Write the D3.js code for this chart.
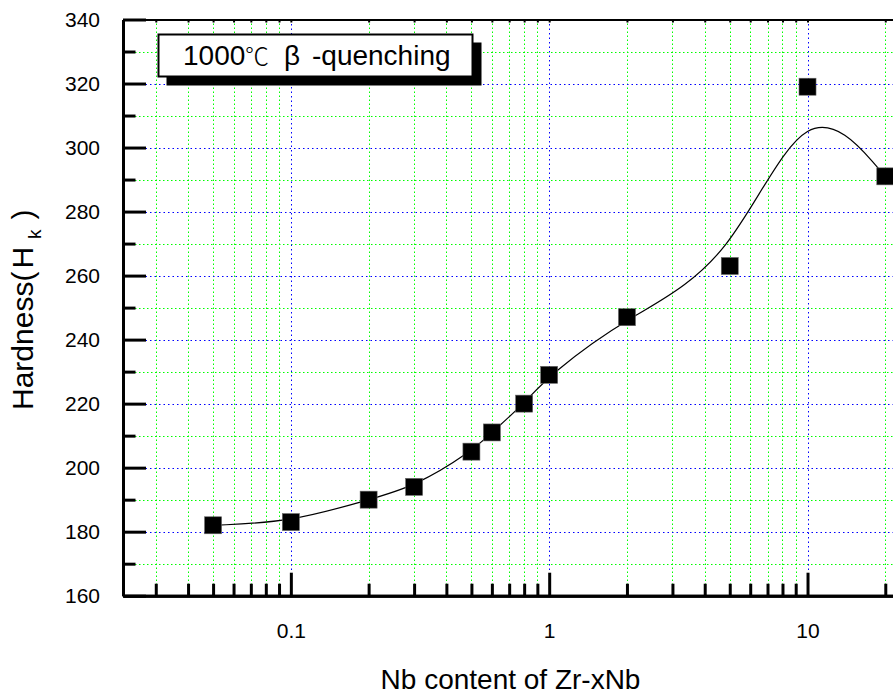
<!DOCTYPE html>
<html>
<head>
<meta charset="utf-8">
<script src="https://cdn.jsdelivr.net/npm/d3@7"></script>
<style>
  body { margin: 0; background: #fff; }
  svg { display: block; }
  text { font-family: "Liberation Sans", Arial, sans-serif; fill: #000; }
</style>
</head>
<body>
<svg id="chart"></svg>
<script>
// data
const nbContent = [0.05, 0.1, 0.2, 0.3, 0.5, 0.6, 0.8, 1, 2, 5, 10, 20];
const hardness = [182, 183, 190, 194, 205, 211, 220, 229, 247, 263, 319, 291];

const xMajorTicks = [0.1, 1, 10];
const xMinorTicks = [0.03, 0.04, 0.05, 0.06, 0.07, 0.08, 0.09,
  0.2, 0.3, 0.4, 0.5, 0.6, 0.7, 0.8, 0.9,
  2, 3, 4, 5, 6, 7, 8, 9, 20];
const yMajorTicks = [160, 180, 200, 220, 240, 260, 280, 300, 320, 340];
const yMinorTicks = [170, 190, 210, 230, 250, 270, 290, 310, 330];

let width = 893;
let height = 697;
let plotLeft = 123, plotTop = 19.5, plotRight = 898, plotBottom = 595.7;

let svg = d3.select('#chart')
  .attr('width', width)
  .attr('height', height);

let x = d3.scaleLog().domain([0.0224, 22.4]).range([plotLeft, plotRight]);
let y = d3.scaleLinear().domain([160, 340]).range([plotBottom, plotTop]);

// grid lines
let grid = svg.append('g').attr('fill', 'none').attr('stroke-width', 1);

function vGrid(values, color, dash) {
  grid.selectAll(null).data(values).enter().append('line')
    .attr('x1', d => Math.round(x(d)) + 0.5).attr('x2', d => Math.round(x(d)) + 0.5)
    .attr('y1', plotTop).attr('y2', plotBottom)
    .attr('stroke', color).attr('stroke-dasharray', dash);
}
function hGrid(values, color, dash) {
  grid.selectAll(null).data(values).enter().append('line')
    .attr('y1', d => Math.round(y(d)) + 0.5).attr('y2', d => Math.round(y(d)) + 0.5)
    .attr('x1', plotLeft).attr('x2', plotRight)
    .attr('stroke', color).attr('stroke-dasharray', dash);
}
vGrid(xMinorTicks, '#00ff00', '1.5,2.5');
hGrid(yMinorTicks, '#00ff00', '1.5,2.5');
vGrid(xMajorTicks, '#0000ff', '1.5,3');
hGrid(yMajorTicks.slice(1, -1), '#0000ff', '1.5,3');

// axes
function styleAxis(g, w) {
  g.selectAll('.domain').attr('stroke', '#000').attr('stroke-width', w);
  g.selectAll('.tick line').attr('stroke', '#000').attr('stroke-width', 3);
}

let xMinorAxis = svg.append('g')
  .attr('transform', 'translate(0,' + plotBottom + ')')
  .call(d3.axisBottom(x).tickValues(xMinorTicks).tickSize(-12).tickSizeOuter(0).tickFormat(''));
styleAxis(xMinorAxis, 3);

let xAxis = svg.append('g')
  .attr('transform', 'translate(0,' + plotBottom + ')')
  .call(d3.axisBottom(x).tickValues(xMajorTicks).tickSize(-23).tickSizeOuter(0)
    .tickFormat(d => d3.format('~g')(d)));
styleAxis(xAxis, 3);
xAxis.selectAll('.tick text')
  .attr('y', 42).attr('dy', null)
  .attr('font-size', 21).attr('font-family', '"Liberation Sans", Arial, sans-serif');

let topAxis = svg.append('g')
  .attr('transform', 'translate(0,' + plotTop + ')')
  .call(d3.axisTop(x).tickValues(xMajorTicks.concat(xMinorTicks)).tickSize(-3).tickSizeOuter(0).tickFormat(''));
styleAxis(topAxis, 2);
topAxis.selectAll('.tick line').attr('stroke-width', 2);

let yMinorAxis = svg.append('g')
  .attr('transform', 'translate(' + plotLeft + ',0)')
  .call(d3.axisLeft(y).tickValues(yMinorTicks).tickSize(-12.5).tickSizeOuter(0).tickFormat(''));
styleAxis(yMinorAxis, 3);

let yAxis = svg.append('g')
  .attr('transform', 'translate(' + plotLeft + ',0)')
  .call(d3.axisLeft(y).tickValues(yMajorTicks).tickSize(-23).tickSizeOuter(0));
styleAxis(yAxis, 3);
yAxis.selectAll('.tick text')
  .attr('x', -23)
  .attr('font-size', 21).attr('font-family', '"Liberation Sans", Arial, sans-serif');

// B-spline through the points
let points = nbContent.map((d, i) => [d, hardness[i]]);
let line = d3.line()
  .x(d => x(d[0]))
  .y(d => y(d[1]))
  .curve(d3.curveBasis);

svg.append('path')
  .datum(points)
  .attr('d', line)
  .attr('fill', 'none')
  .attr('stroke', '#000')
  .attr('stroke-width', 1.2);

let sq = 17;
svg.selectAll('.pt')
  .data(points)
  .enter()
  .append('rect')
  .attr('class', 'pt')
  .attr('x', d => x(d[0]) - sq / 2)
  .attr('y', d => y(d[1]) - sq / 2)
  .attr('width', sq)
  .attr('height', sq)
  .attr('fill', '#000')
  .attr('stroke', '#666')
  .attr('stroke-width', 0.6);

// legend box with shadow
let legend = svg.append('g');
legend.append('rect')
  .attr('x', 166.5).attr('y', 42.5).attr('width', 315).attr('height', 43)
  .attr('fill', '#000');
legend.append('rect')
  .attr('x', 158.5).attr('y', 34.5).attr('width', 314).attr('height', 42)
  .attr('fill', '#fff').attr('stroke', '#000').attr('stroke-width', 2);

let lt = legend.append('text')
  .attr('y', 65)
  .attr('font-size', 28);
lt.append('tspan').attr('x', 183).text('1000');
lt.append('tspan').attr('x', 245).attr('font-family', '"Noto Sans CJK SC", sans-serif')
  .attr('font-size', 24).attr('font-weight', 300).text('℃');
lt.append('tspan').attr('x', 284).text('β');
lt.append('tspan').attr('x', 312).text('-quenching');

// axis titles
svg.append('text')
  .attr('x', (plotLeft + plotRight) / 2)
  .attr('y', 689)
  .attr('text-anchor', 'middle')
  .attr('font-size', 28)
  .text('Nb content of Zr-xNb');

let yt = svg.append('text')
  .attr('transform', 'translate(33,410) rotate(-90)')
  .attr('font-size', 30);
yt.append('tspan').text('Hardness(');
yt.append('tspan').attr('dx', 3).text('H');
yt.append('tspan').attr('dx', 8).attr('dy', 8).attr('font-size', 19).text('k');
yt.append('tspan').attr('dx', 10).attr('dy', -8).text(')');
</script>
</body>
</html>
